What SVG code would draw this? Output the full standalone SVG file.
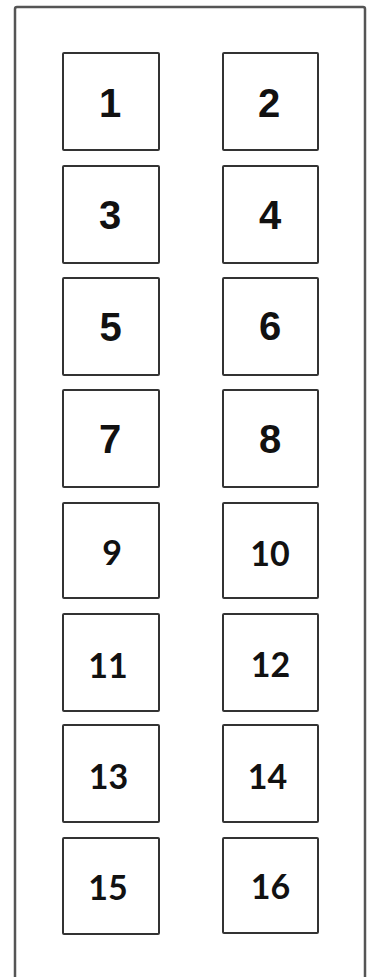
<svg xmlns="http://www.w3.org/2000/svg" width="373" height="977" viewBox="0 0 373 977">
<style>
.frame{fill:#fff;stroke:#555;stroke-width:2.5}
.box{fill:#fff;stroke:#333;stroke-width:2}
.a{font-family:"Liberation Sans",Arial,sans-serif;font-weight:bold;font-size:40px;fill:#111;text-anchor:middle}
.c{font-family:Lato,"Open Sans",sans-serif;font-weight:bold;font-size:34px;fill:#111;text-anchor:middle}
</style>
<rect width="373" height="977" fill="#fff"/>
<rect id="frame" class="frame" x="15" y="7" width="350" height="1000" rx="2"/>
<g id="connectors"></g>
<g id="n1"><rect class="box" x="63" y="53" width="96" height="97" rx="1"/><text class="a" x="110" y="117">1</text></g>
<g id="n2"><rect class="box" x="223" y="53" width="95" height="97" rx="1"/><text class="a" x="269" y="117">2</text></g>
<g id="n3"><rect class="box" x="63" y="166" width="96" height="97" rx="1"/><text class="a" x="110" y="229">3</text></g>
<g id="n4"><rect class="box" x="223" y="166" width="95" height="97" rx="1"/><text class="a" x="270" y="229">4</text></g>
<g id="n5"><rect class="box" x="63" y="278" width="96" height="97" rx="1"/><text class="a" x="110.5" y="341">5</text></g>
<g id="n6"><rect class="box" x="223" y="278" width="95" height="97" rx="1"/><text class="a" x="270" y="340">6</text></g>
<g id="n7"><rect class="box" x="63" y="390" width="96" height="97" rx="1"/><text class="a" x="110" y="453">7</text></g>
<g id="n8"><rect class="box" x="223" y="390" width="95" height="97" rx="1"/><text class="a" x="270" y="453">8</text></g>
<g id="n9"><rect class="box" x="63" y="503" width="96" height="95" rx="1"/><text class="c" x="112" y="565">9</text></g>
<g id="n10"><rect class="box" x="223" y="503" width="95" height="95" rx="1"/><text class="c" x="270" y="566">10</text></g>
<g id="n11"><rect class="box" x="63" y="614" width="96" height="97" rx="1"/><text class="c" x="108" y="678">11</text></g>
<g id="n12"><rect class="box" x="223" y="614" width="95" height="97" rx="1"/><text class="c" x="270.5" y="677">12</text></g>
<g id="n13"><rect class="box" x="63" y="725" width="96" height="97" rx="1"/><text class="c" x="108.5" y="789">13</text></g>
<g id="n14"><rect class="box" x="223" y="725" width="95" height="97" rx="1"/><text class="c" x="267.5" y="789">14</text></g>
<g id="n15"><rect class="box" x="63" y="838" width="96" height="96" rx="1"/><text class="c" x="108" y="900">15</text></g>
<g id="n16"><rect class="box" x="223" y="838" width="95" height="95" rx="1"/><text class="c" x="270.5" y="899">16</text></g>
</svg>
